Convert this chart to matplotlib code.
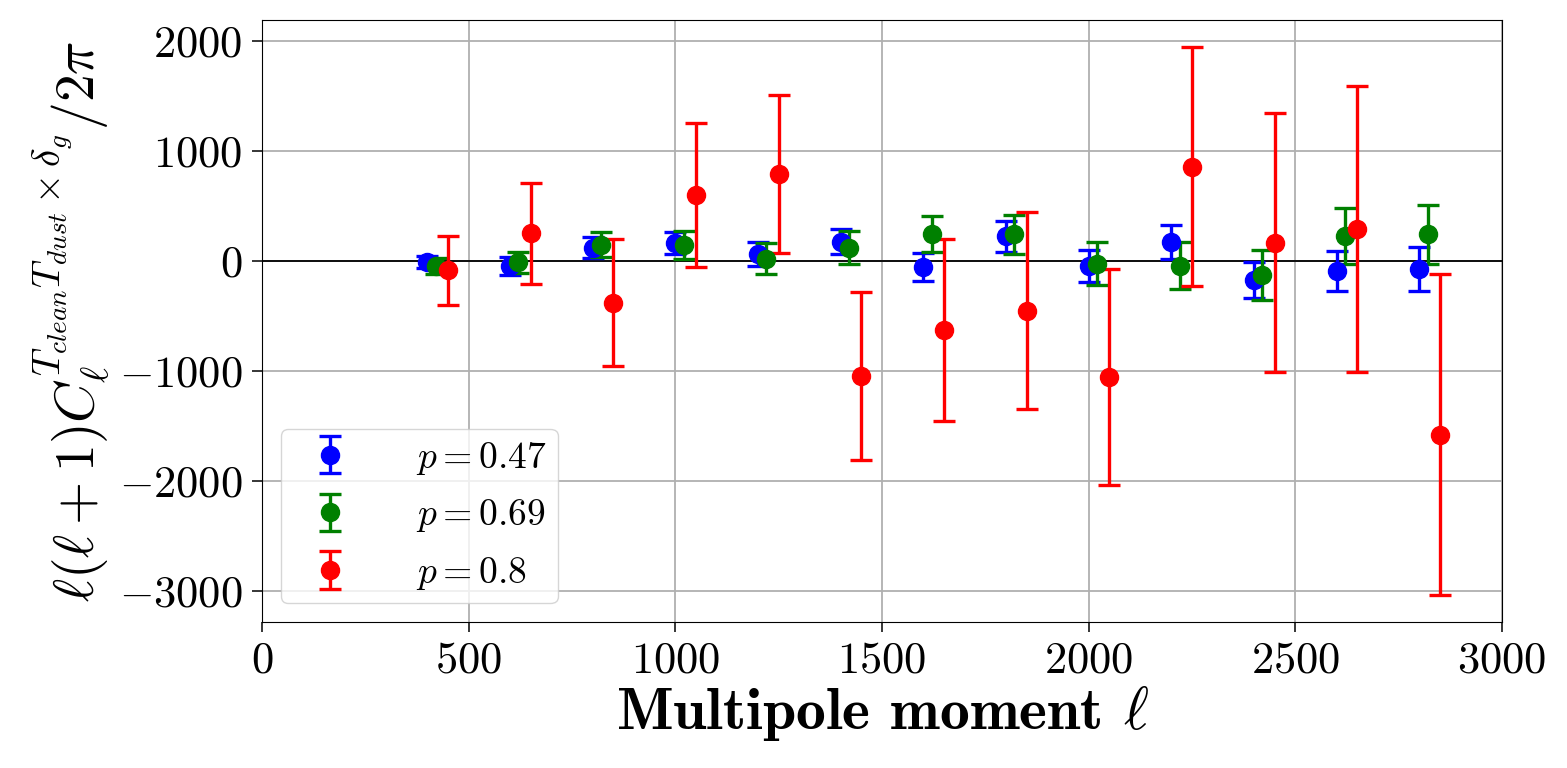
import numpy as np
import matplotlib
matplotlib.use("Agg")
import matplotlib.pyplot as plt

plt.rcParams["font.family"] = "serif"
plt.rcParams["font.serif"] = ["cmr10"]
plt.rcParams["mathtext.fontset"] = "cm"
plt.rcParams["axes.formatter.use_mathtext"] = True

# multipole bin centres, each series shifted a little so the bars don't overlap
ell = np.array([400, 600, 800, 1000, 1200, 1400, 1600, 1800, 2000, 2200, 2400, 2600, 2800])
offsets = [0, 20, 50]
labels = [r"$p=0.47$", r"$p=0.69$", r"$p=0.8$"]
colors = ["blue", "green", "red"]

# p = 0.47
cl_047 = [-10, -47, 120, 160, 60, 175, -57, 222, -47, 168, -175, -92, -77]
err_047 = [55, 80, 95, 100, 110, 115, 128, 138, 146, 155, 165, 185, 200]
# p = 0.69
cl_069 = [-45, -15, 145, 145, 20, 120, 240, 240, -25, -45, -130, 225, 240]
err_069 = [75, 95, 113, 125, 140, 150, 163, 180, 193, 212, 230, 252, 268]
# p = 0.8
cl_080 = [-88, 252, -380, 600, 790, -1045, -630, -455, -1055, 857, 165, 293, -1580]
err_080 = [310, 460, 580, 655, 715, 765, 825, 895, 985, 1085, 1175, 1300, 1460]

series = [(cl_047, err_047), (cl_069, err_069), (cl_080, err_080)]

fig, ax = plt.subplots(figsize=(15.67, 7.68), dpi=100)
fig.subplots_adjust(left=0.1672, right=0.9585, top=0.974, bottom=0.190)

for (cl, err), off, c, lab in zip(series, offsets, colors, labels):
    ax.errorbar(ell + off, cl, yerr=err, fmt="o", color=c, ms=13,
                elinewidth=2.4, capsize=8, capthick=2.4, label=lab, zorder=3)

ax.axhline(0, color="black", lw=1.3, zorder=2)
ax.grid(True, color="#b0b0b0", lw=1.3)
ax.set_axisbelow(True)

ax.set_xlim(0, 3000)
ax.set_ylim(-3285, 2190)
ax.set_xticks([0, 500, 1000, 1500, 2000, 2500, 3000])
ax.set_yticks([-3000, -2000, -1000, 0, 1000, 2000])
ax.tick_params(labelsize=32, length=7, width=1.1, pad=7)

ax.set_xlabel(r"Multipole moment $\ell$", fontsize=43, fontfamily="cmb10", labelpad=2)
ax.set_ylabel(r"$\ell(\ell+1)C_\ell^{T_{clean}T_{dust}\times\delta_g}/2\pi$", fontsize=40)

ax.legend(loc="lower left", fontsize=27, borderpad=0.3, labelspacing=0.55,
          handletextpad=1.3)

fig.savefig("out.png", dpi=100)
